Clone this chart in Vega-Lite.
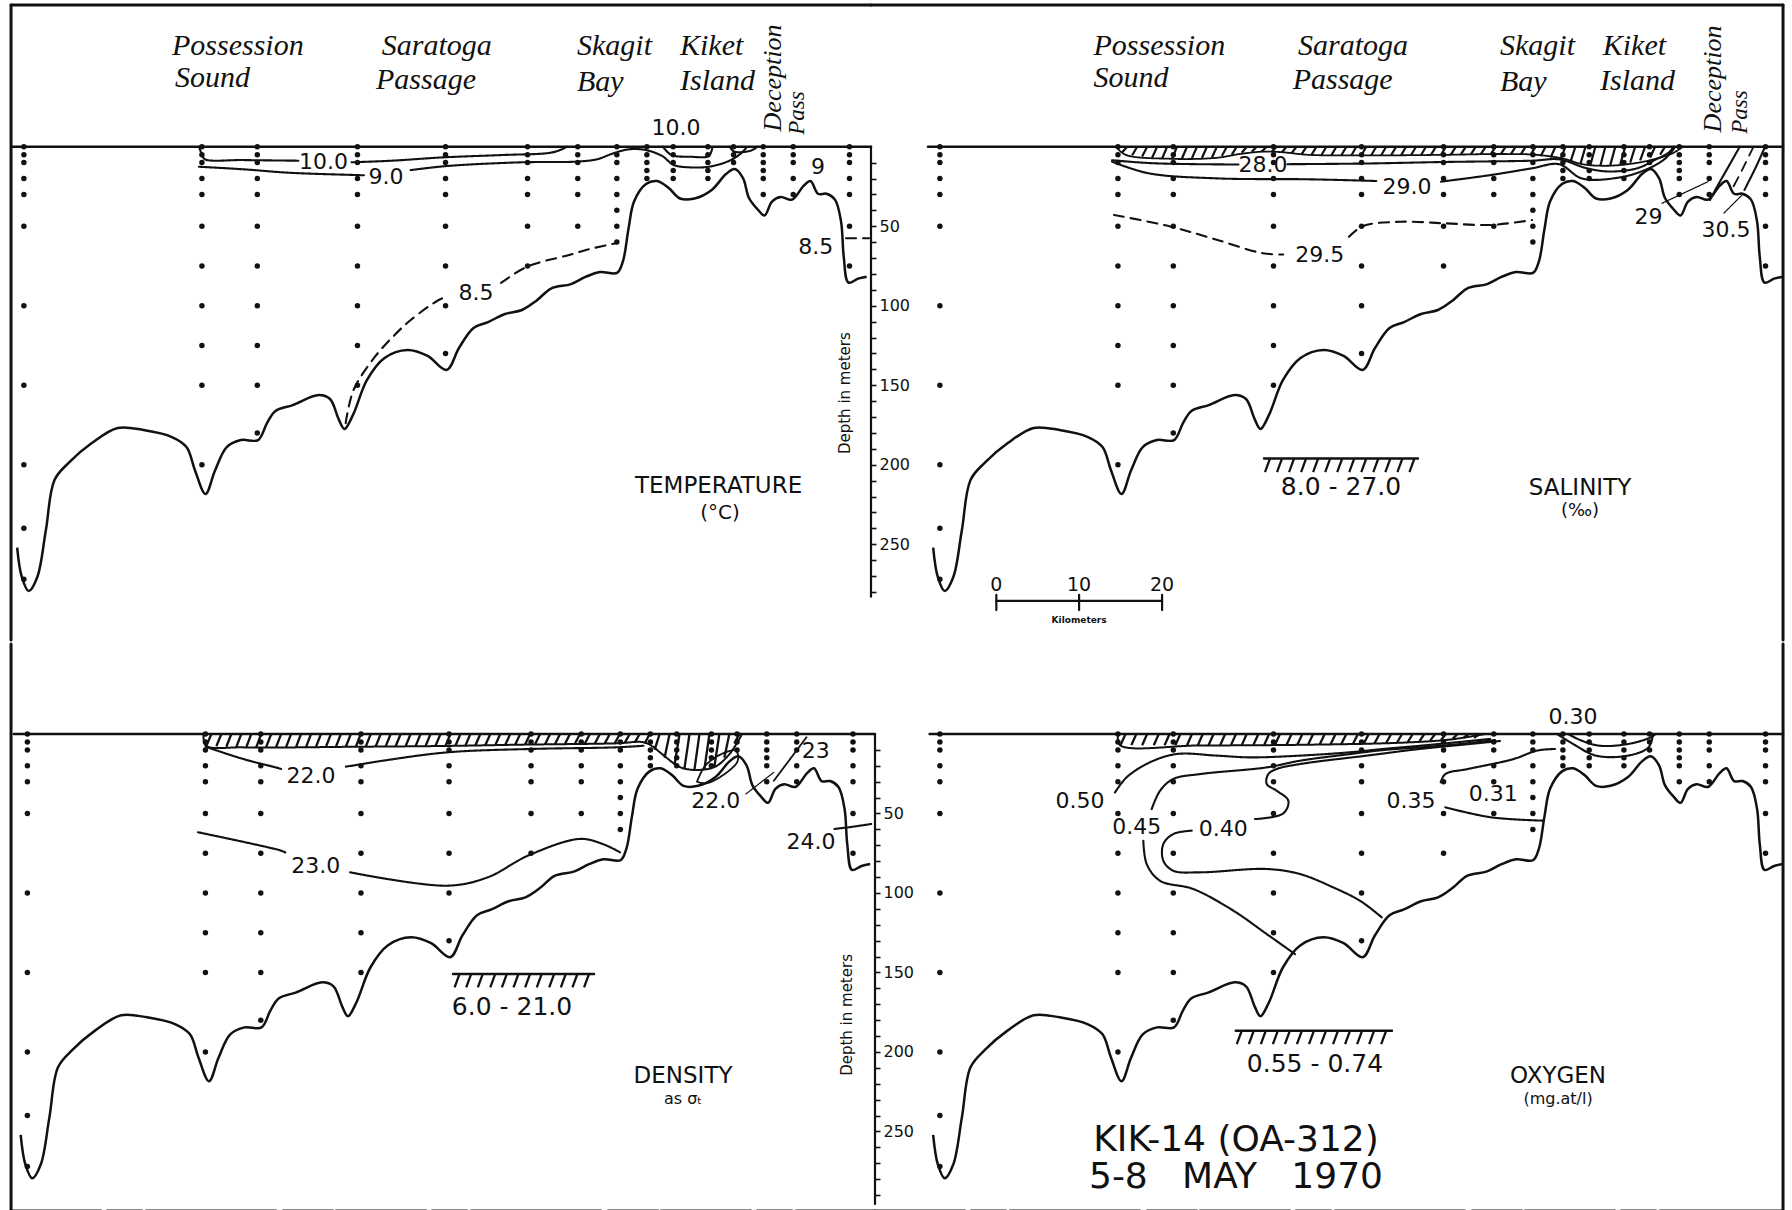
{
  "$schema": "https://vega.github.io/schema/vega-lite/v6.json",
  "padding": 0,
  "background": "white",
  "config": {"view": {"stroke": null}, "concat": {"spacing": 0}},
  "datasets": {
    "bathy": [
      {"k": [0.02,0.58,1.41,2.45,3.48,4.52,6.25,9.01,12.13,15.24,18.67,20.42,21.45,22.71,23.86,25.27,26.99,29.04,30.12,31.14,33.22,36.34,37.71,38.75,39.45,40.48,42.17,44.28,47.05,49.47,51.76,53.25,55,56.75,58.8,60.84,62.61,64.34,66.75,68.49,70.24,72.29,73.01,73.67,74.34,75.78,77.11,78.52,79.88,81.63,83.7,85.42,86.47,87.47,88.19,89.24,90.06,90.96,92,93.37,94.77,95.6,96.51,97.53,98.55,99.28,99.61,100.17,101.33,102.37],
       "d": [252.1,270.6,279.4,270.6,241.1,209.6,198.7,186.4,176.9,178.2,182.6,188.9,203.6,218.4,203.6,188.9,184.5,184.5,173.8,166.2,162.5,156.2,158.7,171.3,177.5,168.7,146.7,132.9,127.9,131.6,140.4,126.6,114,110.3,105.2,102.7,96.7,89.2,86.4,81.9,78.8,79.4,71.9,51.8,34.5,23.5,21.6,26,32.6,32.6,27.2,17.2,14,19.7,32.3,39.5,43.3,34.5,31.6,33.3,24.6,21.6,29.6,29.6,33.3,47,69.4,85.5,83,81.8]}
    ],
    "stations": [
      {"k": 0.83, "d": [0,5,10,20,30,50,100,150,200,240,272]},
      {"k": 22.28, "d": [0,5,10,20,30,50,75,100,125,150,200]},
      {"k": 28.95, "d": [0,5,10,20,30,50,75,100,125,150,180]},
      {"k": 41.02, "d": [0,5,10,20,30,50,75,100,125,150]},
      {"k": 51.63, "d": [0,5,10,20,30,50,75,100,130]},
      {"k": 61.51, "d": [0,5,10,20,30,50,75]},
      {"k": 67.56, "d": [0,5,10,20,30,50]},
      {"k": 72.27, "d": [0,5,10,20,30,40,50,60]},
      {"k": 75.89, "d": [0,5,10,15,20]},
      {"k": 79.06, "d": [0,5,10,15,20]},
      {"k": 83.24, "d": [0,5,10,15,20]},
      {"k": 86.33, "d": [0,5,10]},
      {"k": 89.91, "d": [0,5,10,15,20,30]},
      {"k": 93.52, "d": [0,5,10,20,30]},
      {"k": 100.3, "d": [0,5,10,20,30,50,75]}
    ],
    "hatch": [
      {"p": "S", "d": 0,
       "k": [23.4,24.6,25.8,27.0,28.2,29.4,30.6,31.8,33.0,34.2,35.4,36.6,37.8,39.0,40.2,41.4,42.6,43.8,45.0,46.2,47.4,48.6,49.8,51.0,52.2,53.4,54.6,55.8,57.0,58.2,59.4,60.6,61.8,63.0,64.2,65.4,66.6,67.8,69.0,70.2,71.4,72.6,73.8,75.0,76.2,77.4,78.6,79.8,81.0,82.2,83.4,84.6,85.8,87.0,88.2,89.4],
       "b": [3.5,5.4,6.2,6.9,7.5,7.6,7.4,7.2,7.1,6.9,5.9,5.0,3.8,3.2,3.1,3.3,3.6,4.0,4.8,5.1,5.2,5.3,5.4,5.5,5.5,5.4,5.4,5.3,5.3,5.2,5.2,5.1,5.1,5.0,4.8,4.8,4.7,4.6,4.7,4.8,5.0,5.1,6.0,6.8,8.0,9.6,11.0,11.5,12,11.6,11.1,10.0,8.6,6.8,5.0,3.0]},
      {"p": "S", "d": 196.1,
       "k": [40.6,42.05,43.5,44.95,46.4,47.85,49.3,50.75,52.2,53.65,55.1,56.55,58.0],
       "b": [204.6,204.6,204.6,204.6,204.6,204.6,204.6,204.6,204.6,204.6,204.6,204.6,204.6]},
      {"p": "D", "d": 0,
       "k": [23.0,24.2,25.4,26.6,27.8,29.0,30.2,31.4,32.6,33.8,35.0,36.2,37.4,38.6,39.8,41.0,42.2,43.4,44.6,45.8,47.0,48.2,49.4,50.6,51.8,53.0,54.2,55.4,56.6,57.8,59.0,60.2,61.4,62.6,63.8,65.0,66.2,67.4,68.6,69.8,71.0,72.2,73.4,74.6,75.8,77.0,78.2,79.4,80.6,81.8,83.0,84.2,85.4,86.6],
       "b": [7.4,7.7,8.0,8.3,8.4,8.4,8.3,8.3,8.3,8.2,8.2,8.1,8.1,8.1,8.0,8.0,7.9,7.8,7.8,7.7,7.7,7.6,7.6,7.5,7.5,7.4,7.3,7.2,7.1,7.0,6.9,6.8,6.6,6.5,6.4,6.3,6.2,6.1,6.0,6.0,5.9,5.8,5.6,5.4,6.0,10,15,19.5,21.5,22.4,22,20.5,15,6]},
      {"p": "D", "d": 150.9,
       "k": [52.9,54.3,55.7,57.2,58.6,60.0,61.4,62.8,64.3,65.7,67.1,68.5],
       "b": [159.3,159.3,159.3,159.3,159.3,159.3,159.3,159.3,159.3,159.3,159.3,159.3]},
      {"p": "O", "d": 0,
       "k": [23.2,24.5,25.8,27.2,28.5,29.8,31.2,32.5,33.8,35.2,36.5,37.8,39.2,40.5,41.8,43.2,44.5,45.8,47.2,48.5,49.8,51.2,52.5,53.8,55.2,56.5,57.8,59.2,60.5,61.8,63.2,64.5,65.8],
       "b": [7.0,7.0,7.1,7.1,7.1,7.1,7.2,7.2,7.1,7.1,7.0,7.0,6.9,6.9,6.9,6.8,6.8,6.6,6.5,6.4,6.2,6.1,6.0,5.8,5.7,5.5,5.1,4.6,4.2,3.8,3.1,2.6,2.5]},
      {"p": "O", "d": 186.6,
       "k": [37.2,38.65,40.1,41.55,43.0,44.45,45.9,47.35,48.8,50.25,51.7,53.15,54.6],
       "b": [195,195,195,195,195,195,195,195,195,195,195,195,195]}
    ],
    "lines": [
      {"p": "T", "g": "frT", "ds": "s", "w": 3, "k": [-0.72,102.89], "d": [-89.12,-89.12]},
      {"p": "T", "g": "frL", "ds": "s", "w": 3, "k": [-0.72,-0.72], "d": [-89.12,310.25]},
      {"p": "T", "g": "sf", "ds": "s", "w": 2.6, "k": [-0.6,102.89], "d": [0,0]},
      {"p": "T", "g": "ax", "ds": "s", "w": 2.2, "k": [102.89,102.89], "d": [0,283]},
      {"p": "T", "g": "t10a", "ds": "s", "w": 2.1, "k": [21.92,22.3,22.64,27.24,33.9], "d": [0,5.2,7.9,8.4,8.8]},
      {"p": "T", "g": "t10b", "ds": "s", "w": 2.1, "k": [40.3,45.18,51.36,58.65,64.27,65.66,66.23], "d": [9.8,8.8,6.7,5.2,3.8,1.6,0]},
      {"p": "T", "g": "t10c", "ds": "s", "w": 2.1, "k": [77.82,78.84,81.08,83.34,83.78], "d": [0,5.2,6.3,5.8,0.5]},
      {"p": "T", "g": "t10d", "ds": "s", "w": 2.1, "k": [85.86,86.42,88.39,89.22], "d": [0,3.1,2.5,0]},
      {"p": "T", "g": "t9a", "ds": "s", "w": 2.1, "k": [21.92,27.24,32.86,40.7,41.8], "d": [12.6,14.2,16.4,17.8,18]},
      {"p": "T", "g": "t9b", "ds": "s", "w": 2.1, "k": [47.43,51.93,60.89,67.35,69.88,71.83,73.8,75.76,77.71,79.12,81.08,83.34,85.58,86.99,87.83], "d": [14.7,12.1,9.8,9.4,7.9,4.2,1.6,2.1,5.8,11.5,13,12.6,9.4,5.2,1]},
      {"p": "T", "g": "t85a", "ds": "d", "w": 2.1, "k": [39.6,40.55,43.13,45.29,47.43,50.8,51.69], "d": [173.8,153,132.1,119.5,109,96.4,94.5]},
      {"p": "T", "g": "t85b", "ds": "d", "w": 2.1, "k": [58.31,61.45,66.51,69.04,72.41], "d": [85.7,75.5,68.1,64.3,60.4]},
      {"p": "T", "g": "t85c", "ds": "d", "w": 2.1, "k": [99.88,102.65], "d": [57.6,57.6]},

      {"p": "S", "g": "frT", "ds": "s", "w": 3, "k": [-7.47,102.41], "d": [-89.12,-89.12]},
      {"p": "S", "g": "frR", "ds": "s", "w": 3, "k": [102.41,102.41], "d": [-89.12,310.25]},
      {"p": "S", "g": "sf", "ds": "s", "w": 2.6, "k": [-0.6,102.41], "d": [0,0]},
      {"p": "S", "g": "hb", "ds": "s", "w": 1.8, "k": [22.05,23.16,28.65,34.15,36.94,39.71,41.93,45.22,51.82,61.72,68.31,72.72,76.02,78.23,80.96,83.73,86.48,89.23,90.33], "d": [0,5,7.6,7,4.6,3.1,3.4,5.1,5.5,5.1,4.6,5.1,7.6,11,12,11,8.4,3.8,0]},
      {"p": "S", "g": "s28a", "ds": "s", "w": 2.1, "k": [21.57,26.51,36.8], "d": [8.5,10.4,11.2]},
      {"p": "S", "g": "s28b", "ds": "s", "w": 2.1, "k": [42.7,51.81,61.72,72.17,75.47,78.78,81.53,84.82,87.02,88.67,89.23], "d": [11,10.6,9.6,8.8,8,13.6,15.6,13.6,8.2,3.6,0]},
      {"p": "S", "g": "s29a", "ds": "s", "w": 2.1, "k": [21.57,25.96,34.1,45.2,52.31,53.4], "d": [9.4,16.7,19.9,20.5,21.4,21.6]},
      {"p": "S", "g": "s29b", "ds": "s", "w": 2.1, "k": [61.2,67.23,72.17,75.42,78.19,82.65,85.9,88.19,89.4], "d": [22,17.8,13.6,11,20,19.4,14.4,7.6,0.2]},
      {"p": "S", "g": "s295a", "ds": "d", "w": 2.1, "k": [21.81,28.67,34.28,39.71,42.2], "d": [42.9,50.3,58.7,67,67.8]},
      {"p": "S", "g": "s295b", "ds": "d", "w": 2.1, "k": [50.12,51.81,56.27,61.69,67.23,72.17], "d": [56.6,49.9,47.2,48.2,49.2,46.1]},
      {"p": "S", "g": "sL1", "ds": "s", "w": 2.1, "k": [97.2,95.83,94.46,93.61], "d": [0,12.6,25.2,33.5]},
      {"p": "S", "g": "sL2", "ds": "d", "w": 1.8, "k": [98.86,97.47,96.11], "d": [0,14.7,28.3]},
      {"p": "S", "g": "sL3", "ds": "s", "w": 2.1, "k": [100.24,99.16,97.76], "d": [0,12.6,27.2]},
      {"p": "S", "g": "ld1", "ds": "s", "w": 1.2, "k": [87.83,93.37], "d": [35.6,22]},
      {"p": "S", "g": "ld2", "ds": "s", "w": 1.2, "k": [95.3,97.47], "d": [41.7,30.4]},
      {"p": "S", "g": "leg", "ds": "s", "w": 2.4, "k": [39.88,58.43], "d": [196.1,196.1]},
      {"p": "S", "g": "sc", "ds": "s", "w": 2.2, "k": [7.63,27.6], "d": [285.7,285.7]},
      {"p": "S", "g": "sc0", "ds": "s", "w": 2.2, "k": [7.63,7.63], "d": [281.8,291.4]},
      {"p": "S", "g": "sc1", "ds": "s", "w": 2.2, "k": [17.6,17.6], "d": [281.8,291.4]},
      {"p": "S", "g": "sc2", "ds": "s", "w": 2.2, "k": [27.6,27.6], "d": [281.8,291.4]},

      {"p": "D", "g": "frL", "ds": "s", "w": 3, "k": [-1.14,-1.14], "d": [-56.6,300]},
      {"p": "D", "g": "frB", "ds": "b", "w": 3, "k": [-1.14,102.95], "d": [300,300]},
      {"p": "D", "g": "sf", "ds": "s", "w": 2.6, "k": [-0.8,102.95], "d": [0,0]},
      {"p": "D", "g": "ax", "ds": "s", "w": 2.2, "k": [102.95,102.95], "d": [0,295.6]},
      {"p": "D", "g": "hb", "ds": "s", "w": 2.0, "k": [22.05,22.34,26.82,40.84,51.5,60.47,71.7,75.06,76.2,77.29,79.54,81.78,83.75,85.43,86.83], "d": [0,7.3,8.4,8,7.5,6.7,5.9,5.2,8,12.6,21,22.6,20.4,12.6,1]},
      {"p": "D", "g": "d22a", "ds": "s", "w": 2.1, "k": [22.3,26.82,30.75,31.4], "d": [8,15.7,21,22]},
      {"p": "D", "g": "d22b", "ds": "s", "w": 2.1, "k": [39.2,40,43.65,51.51,61.58,71.7,75.06], "d": [20.5,19.9,16.8,11.5,9.4,8.4,7.4]},
      {"p": "D", "g": "d23a", "ds": "s", "w": 2.1, "k": [21.39,31.42,31.9], "d": [61.8,73.4,74.5]},
      {"p": "D", "g": "d23b", "ds": "s", "w": 2.1, "k": [39.71,51.47,56.31,61.14,67.37,70.16,72.23], "d": [87,95.4,90.1,76.5,66,69.2,74.4]},
      {"p": "D", "g": "dov", "ds": "s", "w": 1.8, "k": [81.5,82.5,84.5,86.2,86.4,84.6,82.6,81.5], "d": [30,20,12.5,10.5,17,26,31,30]},
      {"p": "D", "g": "d23l", "ds": "s", "w": 1.8, "k": [90.76,94.69], "d": [29.4,2.1]},
      {"p": "D", "g": "dld", "ds": "s", "w": 1.2, "k": [87.4,90.76], "d": [37.7,24.1]},
      {"p": "D", "g": "d24", "ds": "s", "w": 2.1, "k": [98.06,99.73,102.5], "d": [59.7,58.7,56.6]},
      {"p": "D", "g": "leg", "ds": "s", "w": 2.4, "k": [52.11,69.1], "d": [150.9,150.9]},

      {"p": "O", "g": "frR", "ds": "s", "w": 3, "k": [102.41,102.41], "d": [-56.6,300]},
      {"p": "O", "g": "frB", "ds": "b", "w": 3, "k": [-6.99,102.41], "d": [300,300]},
      {"p": "O", "g": "sf", "ds": "s", "w": 2.6, "k": [-0.4,102.41], "d": [0,0]},
      {"p": "O", "g": "hb", "ds": "s", "w": 2.0, "k": [22.29,22.53,32.17,44.22,56.27,62.29,66.51], "d": [0,7,7.2,6.8,5.5,3.5,0]},
      {"p": "O", "g": "o50", "ds": "s", "w": 2.1, "k": [21.93,23.34,26.14,29.36,34.18,38.19,44.22,50.24,54.25,58.67,63.49,67.11], "d": [36.7,27.2,17.8,12.6,13.6,14.7,13.6,11.5,9.4,7.4,5,3.1]},
      {"p": "O", "g": "o45u", "ds": "s", "w": 2.1, "k": [26.35,27.35,28.95,32.17,40.2,44.22,50.24,54.25,58.67,63.49,67.71], "d": [47.2,35.7,28.3,25.2,21,16.8,12.6,10.1,8.4,6.3,3.8]},
      {"p": "O", "g": "o45l", "ds": "s", "w": 2.1, "k": [25.34,25.75,27.35,31.36,36.18,40.2,43.61], "d": [67.1,81.8,92.3,97.5,111.1,125.8,138.4]},
      {"p": "O", "g": "o40u", "ds": "s", "w": 2.1, "k": [38.8,42.21,42.81,41.41,40.2,40.4,41.41,44.22,52.25,58.67,63.49,68.31], "d": [53.5,49.9,42,35.7,31.4,25.2,22,18.9,13.6,9.4,6.9,4.4]},
      {"p": "O", "g": "o40l", "ds": "s", "w": 2.1, "k": [31.17,28.95,27.75,27.75,28.95,32.17,40.2,44.22,48.23,51.45,54.06], "d": [60.8,62.9,69.2,79.7,86,87,84.9,88.1,96.5,104.9,115.3]},
      {"p": "O", "g": "o35a", "ds": "s", "w": 2.1, "k": [61.72,67.23,73.55], "d": [46.1,52.4,54.5]},
      {"p": "O", "g": "o35b", "ds": "s", "w": 2.1, "k": [61.17,61.72,64.46,69.98,72.72,74.94], "d": [30.4,25.2,22,15.7,10.5,9.4]},
      {"p": "O", "g": "u1", "ds": "s", "w": 2.1, "k": [75.2,77.13,79.88,83.73,86.2,86.75], "d": [0,6.3,13.6,13.6,8.4,0]},
      {"p": "O", "g": "u2", "ds": "s", "w": 2.1, "k": [76.5,78.15,80.36,83.73,86.48,87.04], "d": [0,4.2,7.4,6.3,2.1,0]},
      {"p": "O", "g": "leg", "ds": "s", "w": 2.4, "k": [36.47,55.3], "d": [186.6,186.6]}
    ],
    "labels": [
      {"p": "T", "f": "n", "k": 36.93, "d": 9.6, "s": "10.0", "z": 22},
      {"p": "T", "f": "n", "k": 44.46, "d": 18.9, "s": "9.0", "z": 22},
      {"p": "T", "f": "n", "k": 79.4, "d": -11.6, "s": "10.0", "z": 22},
      {"p": "T", "f": "n", "k": 55.3, "d": 92.2, "s": "8.5", "z": 22},
      {"p": "T", "f": "n", "k": 96.23, "d": 62.9, "s": "8.5", "z": 22},
      {"p": "T", "f": "n", "k": 96.5, "d": 12.6, "s": "9", "z": 22},
      {"p": "T", "f": "n", "k": 84.53, "d": 213.4, "s": "TEMPERATURE", "z": 23},
      {"p": "T", "f": "n", "k": 84.7, "d": 230.2, "s": "(°C)", "z": 20},
      {"p": "T", "f": "r", "k": 99.76, "d": 155, "s": "Depth in meters", "z": 15},
      {"p": "T", "f": "h", "k": 18.67, "d": -63.6, "s": "Possession", "z": 30},
      {"p": "T", "f": "h", "k": 19.04, "d": -43, "s": "Sound", "z": 30},
      {"p": "T", "f": "h", "k": 43.94, "d": -63.6, "s": "Saratoga", "z": 30},
      {"p": "T", "f": "h", "k": 43.25, "d": -42, "s": "Passage", "z": 30},
      {"p": "T", "f": "h", "k": 67.47, "d": -63.3, "s": "Skagit", "z": 30},
      {"p": "T", "f": "h", "k": 67.47, "d": -41, "s": "Bay", "z": 30},
      {"p": "T", "f": "h", "k": 79.88, "d": -63.6, "s": "Kiket", "z": 30},
      {"p": "T", "f": "h", "k": 79.88, "d": -41.5, "s": "Island", "z": 30},
      {"p": "T", "f": "q", "k": 91.08, "d": -43.2, "s": "Deception", "z": 26},
      {"p": "T", "f": "q", "k": 93.98, "d": -21.2, "s": "Pass", "z": 23},

      {"p": "S", "f": "n", "k": 39.76, "d": 11.5, "s": "28.0", "z": 22},
      {"p": "S", "f": "n", "k": 57.11, "d": 25.2, "s": "29.0", "z": 22},
      {"p": "S", "f": "n", "k": 46.59, "d": 68.1, "s": "29.5", "z": 22},
      {"p": "S", "f": "n", "k": 86.2, "d": 44, "s": "29", "z": 22},
      {"p": "S", "f": "n", "k": 95.54, "d": 52.4, "s": "30.5", "z": 22},
      {"p": "S", "f": "n", "k": 77.95, "d": 214.7, "s": "SALINITY", "z": 23},
      {"p": "S", "f": "n", "k": 77.95, "d": 229, "s": "(‰)", "z": 18},
      {"p": "S", "f": "n", "k": 49.16, "d": 214, "s": "8.0 - 27.0", "z": 25},
      {"p": "S", "f": "n", "k": 7.63, "d": 275.7, "s": "0", "z": 19},
      {"p": "S", "f": "n", "k": 17.6, "d": 275.7, "s": "10", "z": 19},
      {"p": "S", "f": "n", "k": 27.6, "d": 275.7, "s": "20", "z": 19},
      {"p": "S", "f": "b", "k": 17.6, "d": 297.6, "s": "Kilometers", "z": 9},
      {"p": "S", "f": "h", "k": 19.34, "d": -63.6, "s": "Possession", "z": 30},
      {"p": "S", "f": "h", "k": 19.34, "d": -43, "s": "Sound", "z": 30},
      {"p": "S", "f": "h", "k": 43.98, "d": -63.3, "s": "Saratoga", "z": 30},
      {"p": "S", "f": "h", "k": 43.33, "d": -42, "s": "Passage", "z": 30},
      {"p": "S", "f": "h", "k": 68.31, "d": -63.6, "s": "Skagit", "z": 30},
      {"p": "S", "f": "h", "k": 68.31, "d": -41, "s": "Bay", "z": 30},
      {"p": "S", "f": "h", "k": 80.69, "d": -63.6, "s": "Kiket", "z": 30},
      {"p": "S", "f": "h", "k": 80.36, "d": -41.5, "s": "Island", "z": 30},
      {"p": "S", "f": "q", "k": 93.98, "d": -42.6, "s": "Deception", "z": 26},
      {"p": "S", "f": "q", "k": 97.23, "d": -21.8, "s": "Pass", "z": 23},

      {"p": "D", "f": "n", "k": 35.0, "d": 26.2, "s": "22.0", "z": 22},
      {"p": "D", "f": "n", "k": 35.56, "d": 82.8, "s": "23.0", "z": 22},
      {"p": "D", "f": "n", "k": 83.75, "d": 42, "s": "22.0", "z": 22},
      {"p": "D", "f": "n", "k": 95.8, "d": 10.5, "s": "23", "z": 22},
      {"p": "D", "f": "n", "k": 95.24, "d": 68.1, "s": "24.0", "z": 22},
      {"p": "D", "f": "n", "k": 79.82, "d": 215.1, "s": "DENSITY", "z": 23},
      {"p": "D", "f": "n", "k": 79.82, "d": 229.4, "s": "as σₜ", "z": 16},
      {"p": "D", "f": "n", "k": 59.22, "d": 172, "s": "6.0 - 21.0", "z": 25},
      {"p": "D", "f": "r", "k": 99.58, "d": 176.7, "s": "Depth in meters", "z": 15},

      {"p": "O", "f": "n", "k": 17.71, "d": 42, "s": "0.50", "z": 22},
      {"p": "O", "f": "n", "k": 24.54, "d": 58.7, "s": "0.45", "z": 22},
      {"p": "O", "f": "n", "k": 34.98, "d": 59.7, "s": "0.40", "z": 22},
      {"p": "O", "f": "n", "k": 57.59, "d": 42, "s": "0.35", "z": 22},
      {"p": "O", "f": "n", "k": 67.49, "d": 37.7, "s": "0.31", "z": 22},
      {"p": "O", "f": "n", "k": 77.11, "d": -10.5, "s": "0.30", "z": 22},
      {"p": "O", "f": "n", "k": 75.3, "d": 215.1, "s": "OXYGEN", "z": 23},
      {"p": "O", "f": "n", "k": 75.3, "d": 229.4, "s": "(mg.at/l)", "z": 16},
      {"p": "O", "f": "n", "k": 46.02, "d": 207.5, "s": "0.55 - 0.74", "z": 25},
      {"p": "O", "f": "n", "k": 36.5, "d": 255.3, "s": "KIK-14 (OA-312)", "z": 36},
      {"p": "O", "f": "n", "k": 36.5, "d": 278.6, "s": "5-8\u00a0\u00a0 MAY\u00a0\u00a0 1970", "z": 36}
    ]
  },
  "vconcat": [
    {
      "hconcat": [
        {
          "width": 871, "height": 640,
          "encoding": {
            "x": {"field": "k", "type": "quantitative", "scale": {"domain": [-2.048, 102.89], "nice": false, "zero": false}, "axis": null},
            "y": {"field": "d", "type": "quantitative", "scale": {"domain": [-92.264, 310.25], "reverse": true, "nice": false, "zero": false},
                  "axis": {"orient": "right", "domain": false, "grid": false, "title": null,
                           "values": [10,20,30,40,50,60,70,80,90,100,110,120,130,140,150,160,170,180,190,200,210,220,230,240,250,260,270,280],
                           "labelExpr": "datum.value % 50 === 0 ? datum.label : ''", "labelOverlap": false, "labelFlush": false,
                           "tickSize": 5, "tickWidth": 1.6, "tickColor": "#111", "labelColor": "#111", "labelFont": "DejaVu Sans", "labelFontSize": 16, "labelPadding": 3}}
          },
          "layer": [
            {"data": {"name": "hatch"}, "transform": [{"filter": "datum.p === 'T'"}, {"flatten": ["k", "b"]}],
             "mark": {"type": "rule", "color": "#111", "strokeWidth": 2.2, "x2Offset": -5},
             "encoding": {"x2": {"field": "k"}, "y2": {"field": "b"}}},
            {"data": {"name": "lines"}, "transform": [{"filter": "datum.p === 'T'"}, {"flatten": ["k", "d"]}],
             "mark": {"type": "line", "color": "#111", "interpolate": "catmull-rom", "strokeCap": "round", "strokeJoin": "round"},
             "encoding": {"detail": {"field": "g", "type": "nominal"}, "order": {"value": null},
                          "strokeWidth": {"field": "w", "type": "quantitative", "scale": null},
                          "strokeDash": {"field": "ds", "type": "nominal", "scale": {"domain": ["s", "d", "b"], "range": [[1, 0], [10, 7], [90, 6, 35, 4, 130, 7, 50, 3]]}, "legend": null}}},
            {"data": {"name": "bathy"}, "transform": [{"flatten": ["k", "d"]}],
             "mark": {"type": "line", "color": "#111", "strokeWidth": 2.5, "interpolate": "catmull-rom", "strokeJoin": "round"},
             "encoding": {"order": {"value": null}}},
            {"data": {"name": "stations"}, "transform": [{"flatten": ["d"]}],
             "mark": {"type": "circle", "color": "#111", "size": 30, "opacity": 1}},
            {"data": {"name": "labels"}, "transform": [{"filter": "datum.p === 'T' && datum.f === 'n'"}],
             "mark": {"type": "text", "font": "DejaVu Sans", "color": "#111", "align": "center", "baseline": "middle"},
             "encoding": {"text": {"field": "s", "type": "nominal"}, "size": {"field": "z", "type": "quantitative", "scale": null}}},
            {"data": {"name": "labels"}, "transform": [{"filter": "datum.p === 'T' && datum.f === 'r'"}],
             "mark": {"type": "text", "font": "DejaVu Sans", "color": "#111", "align": "center", "baseline": "middle", "angle": 270},
             "encoding": {"text": {"field": "s", "type": "nominal"}, "size": {"field": "z", "type": "quantitative", "scale": null}}},
            {"data": {"name": "labels"}, "transform": [{"filter": "datum.p === 'T' && datum.f === 'h'"}],
             "mark": {"type": "text", "font": "Liberation Serif", "fontStyle": "italic", "color": "#111", "align": "left", "baseline": "middle"},
             "encoding": {"text": {"field": "s", "type": "nominal"}, "size": {"field": "z", "type": "quantitative", "scale": null}}},
            {"data": {"name": "labels"}, "transform": [{"filter": "datum.p === 'T' && datum.f === 'q'"}],
             "mark": {"type": "text", "font": "Liberation Serif", "fontStyle": "italic", "color": "#111", "align": "center", "baseline": "middle", "angle": 270},
             "encoding": {"text": {"field": "s", "type": "nominal"}, "size": {"field": "z", "type": "quantitative", "scale": null}}}
          ]
        },
        {
          "width": 921, "height": 640,
          "encoding": {
            "x": {"field": "k", "type": "quantitative", "scale": {"domain": [-7.47, 103.49], "nice": false, "zero": false}, "axis": null},
            "y": {"field": "d", "type": "quantitative", "scale": {"domain": [-92.264, 310.25], "reverse": true, "nice": false, "zero": false}, "axis": null}
          },
          "layer": [
            {"data": {"name": "hatch"}, "transform": [{"filter": "datum.p === 'S'"}, {"flatten": ["k", "b"]}],
             "mark": {"type": "rule", "color": "#111", "strokeWidth": 2.2, "x2Offset": -5},
             "encoding": {"x2": {"field": "k"}, "y2": {"field": "b"}}},
            {"data": {"name": "lines"}, "transform": [{"filter": "datum.p === 'S'"}, {"flatten": ["k", "d"]}],
             "mark": {"type": "line", "color": "#111", "interpolate": "catmull-rom", "strokeCap": "round", "strokeJoin": "round"},
             "encoding": {"detail": {"field": "g", "type": "nominal"}, "order": {"value": null},
                          "strokeWidth": {"field": "w", "type": "quantitative", "scale": null},
                          "strokeDash": {"field": "ds", "type": "nominal", "scale": {"domain": ["s", "d", "b"], "range": [[1, 0], [10, 7], [90, 6, 35, 4, 130, 7, 50, 3]]}, "legend": null}}},
            {"data": {"name": "bathy"}, "transform": [{"flatten": ["k", "d"]}],
             "mark": {"type": "line", "color": "#111", "strokeWidth": 2.5, "interpolate": "catmull-rom", "strokeJoin": "round"},
             "encoding": {"order": {"value": null}}},
            {"data": {"name": "stations"}, "transform": [{"flatten": ["d"]}],
             "mark": {"type": "circle", "color": "#111", "size": 30, "opacity": 1}},
            {"data": {"name": "labels"}, "transform": [{"filter": "datum.p === 'S' && datum.f === 'n'"}],
             "mark": {"type": "text", "font": "DejaVu Sans", "color": "#111", "align": "center", "baseline": "middle"},
             "encoding": {"text": {"field": "s", "type": "nominal"}, "size": {"field": "z", "type": "quantitative", "scale": null}}},
            {"data": {"name": "labels"}, "transform": [{"filter": "datum.p === 'S' && datum.f === 'b'"}],
             "mark": {"type": "text", "font": "DejaVu Sans", "fontWeight": "bold", "color": "#111", "align": "center", "baseline": "middle"},
             "encoding": {"text": {"field": "s", "type": "nominal"}, "size": {"field": "z", "type": "quantitative", "scale": null}}},
            {"data": {"name": "labels"}, "transform": [{"filter": "datum.p === 'S' && datum.f === 'h'"}],
             "mark": {"type": "text", "font": "Liberation Serif", "fontStyle": "italic", "color": "#111", "align": "left", "baseline": "middle"},
             "encoding": {"text": {"field": "s", "type": "nominal"}, "size": {"field": "z", "type": "quantitative", "scale": null}}},
            {"data": {"name": "labels"}, "transform": [{"filter": "datum.p === 'S' && datum.f === 'q'"}],
             "mark": {"type": "text", "font": "Liberation Serif", "fontStyle": "italic", "color": "#111", "align": "center", "baseline": "middle", "angle": 270},
             "encoding": {"text": {"field": "s", "type": "nominal"}, "size": {"field": "z", "type": "quantitative", "scale": null}}}
          ]
        }
      ],
      "spacing": 0,
      "bounds": "flush"
    },
    {
      "hconcat": [
        {
          "width": 875, "height": 570,
          "encoding": {
            "x": {"field": "k", "type": "quantitative", "scale": {"domain": [-2.47, 102.95], "nice": false, "zero": false}, "axis": null},
            "y": {"field": "d", "type": "quantitative", "scale": {"domain": [-56.604, 301.89], "reverse": true, "nice": false, "zero": false},
                  "axis": {"orient": "right", "domain": false, "grid": false, "title": null,
                           "values": [10,20,30,40,50,60,70,80,90,100,110,120,130,140,150,160,170,180,190,200,210,220,230,240,250,260,270,280,290],
                           "labelExpr": "datum.value % 50 === 0 ? datum.label : ''", "labelOverlap": false, "labelFlush": false,
                           "tickSize": 5, "tickWidth": 1.6, "tickColor": "#111", "labelColor": "#111", "labelFont": "DejaVu Sans", "labelFontSize": 16, "labelPadding": 3}}
          },
          "layer": [
            {"data": {"name": "hatch"}, "transform": [{"filter": "datum.p === 'D'"}, {"flatten": ["k", "b"]}],
             "mark": {"type": "rule", "color": "#111", "strokeWidth": 2.3, "x2Offset": -5},
             "encoding": {"x2": {"field": "k"}, "y2": {"field": "b"}}},
            {"data": {"name": "lines"}, "transform": [{"filter": "datum.p === 'D'"}, {"flatten": ["k", "d"]}],
             "mark": {"type": "line", "color": "#111", "interpolate": "catmull-rom", "strokeCap": "round", "strokeJoin": "round"},
             "encoding": {"detail": {"field": "g", "type": "nominal"}, "order": {"value": null},
                          "strokeWidth": {"field": "w", "type": "quantitative", "scale": null},
                          "strokeDash": {"field": "ds", "type": "nominal", "scale": {"domain": ["s", "d", "b"], "range": [[1, 0], [10, 7], [90, 6, 35, 4, 130, 7, 50, 3]]}, "legend": null}}},
            {"data": {"name": "bathy"}, "transform": [{"flatten": ["k", "d"]}],
             "mark": {"type": "line", "color": "#111", "strokeWidth": 2.5, "interpolate": "catmull-rom", "strokeJoin": "round"},
             "encoding": {"order": {"value": null}}},
            {"data": {"name": "stations"}, "transform": [{"flatten": ["d"]}],
             "mark": {"type": "circle", "color": "#111", "size": 30, "opacity": 1}},
            {"data": {"name": "labels"}, "transform": [{"filter": "datum.p === 'D' && datum.f === 'n'"}],
             "mark": {"type": "text", "font": "DejaVu Sans", "color": "#111", "align": "center", "baseline": "middle"},
             "encoding": {"text": {"field": "s", "type": "nominal"}, "size": {"field": "z", "type": "quantitative", "scale": null}}},
            {"data": {"name": "labels"}, "transform": [{"filter": "datum.p === 'D' && datum.f === 'r'"}],
             "mark": {"type": "text", "font": "DejaVu Sans", "color": "#111", "align": "center", "baseline": "middle", "angle": 270},
             "encoding": {"text": {"field": "s", "type": "nominal"}, "size": {"field": "z", "type": "quantitative", "scale": null}}}
          ]
        },
        {
          "width": 917, "height": 570,
          "encoding": {
            "x": {"field": "k", "type": "quantitative", "scale": {"domain": [-6.988, 103.49], "nice": false, "zero": false}, "axis": null},
            "y": {"field": "d", "type": "quantitative", "scale": {"domain": [-56.604, 301.89], "reverse": true, "nice": false, "zero": false}, "axis": null}
          },
          "layer": [
            {"data": {"name": "hatch"}, "transform": [{"filter": "datum.p === 'O'"}, {"flatten": ["k", "b"]}],
             "mark": {"type": "rule", "color": "#111", "strokeWidth": 2.3, "x2Offset": -5},
             "encoding": {"x2": {"field": "k"}, "y2": {"field": "b"}}},
            {"data": {"name": "lines"}, "transform": [{"filter": "datum.p === 'O'"}, {"flatten": ["k", "d"]}],
             "mark": {"type": "line", "color": "#111", "interpolate": "catmull-rom", "strokeCap": "round", "strokeJoin": "round"},
             "encoding": {"detail": {"field": "g", "type": "nominal"}, "order": {"value": null},
                          "strokeWidth": {"field": "w", "type": "quantitative", "scale": null},
                          "strokeDash": {"field": "ds", "type": "nominal", "scale": {"domain": ["s", "d", "b"], "range": [[1, 0], [10, 7], [90, 6, 35, 4, 130, 7, 50, 3]]}, "legend": null}}},
            {"data": {"name": "bathy"}, "transform": [{"flatten": ["k", "d"]}],
             "mark": {"type": "line", "color": "#111", "strokeWidth": 2.5, "interpolate": "catmull-rom", "strokeJoin": "round"},
             "encoding": {"order": {"value": null}}},
            {"data": {"name": "stations"}, "transform": [{"flatten": ["d"]}],
             "mark": {"type": "circle", "color": "#111", "size": 30, "opacity": 1}},
            {"data": {"name": "labels"}, "transform": [{"filter": "datum.p === 'O' && datum.f === 'n'"}],
             "mark": {"type": "text", "font": "DejaVu Sans", "color": "#111", "align": "center", "baseline": "middle"},
             "encoding": {"text": {"field": "s", "type": "nominal"}, "size": {"field": "z", "type": "quantitative", "scale": null}}}
          ]
        }
      ],
      "spacing": 0,
      "bounds": "flush"
    }
  ],
  "spacing": 0
}
